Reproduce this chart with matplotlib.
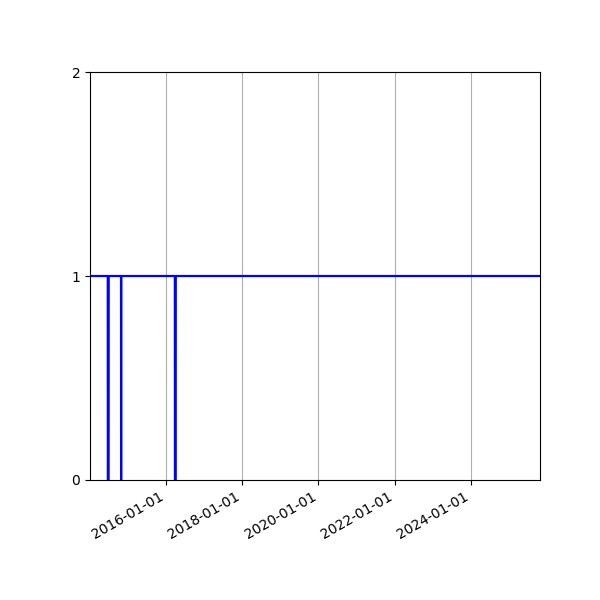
import matplotlib
matplotlib.use('Agg')
import matplotlib.pyplot as plt
import matplotlib.dates as mdates
import pandas as pd

# change points of the availability series (1 = up, 0 = down)
dates = ['2014-01-07', '2014-06-26', '2014-06-27', '2014-07-04', '2014-07-05',
         '2014-10-31', '2014-11-01', '2014-11-02',
         '2016-03-29', '2016-03-30', '2016-04-06', '2016-04-07', '2025-10-23']
values = [1, 1, 0, 0, 1,
          1, 0, 1,
          1, 0, 0, 1, 1]

x = pd.to_datetime(dates)

fig, ax = plt.subplots(figsize=(6, 6), dpi=100)
ax.plot(x, values, color='blue', linewidth=1.6)
ax.set_xlim(x[0], x[-1])
ax.set_ylim(0, 2)
ax.set_yticks([0, 1, 2])
ax.xaxis.set_major_locator(mdates.YearLocator(2))
ax.xaxis.set_major_formatter(mdates.DateFormatter('%Y-%m-%d'))
ax.grid(axis='x')
fig.autofmt_xdate()
fig.subplots_adjust(left=0.15, right=0.9, top=0.88, bottom=0.2)
fig.savefig('out.png')
